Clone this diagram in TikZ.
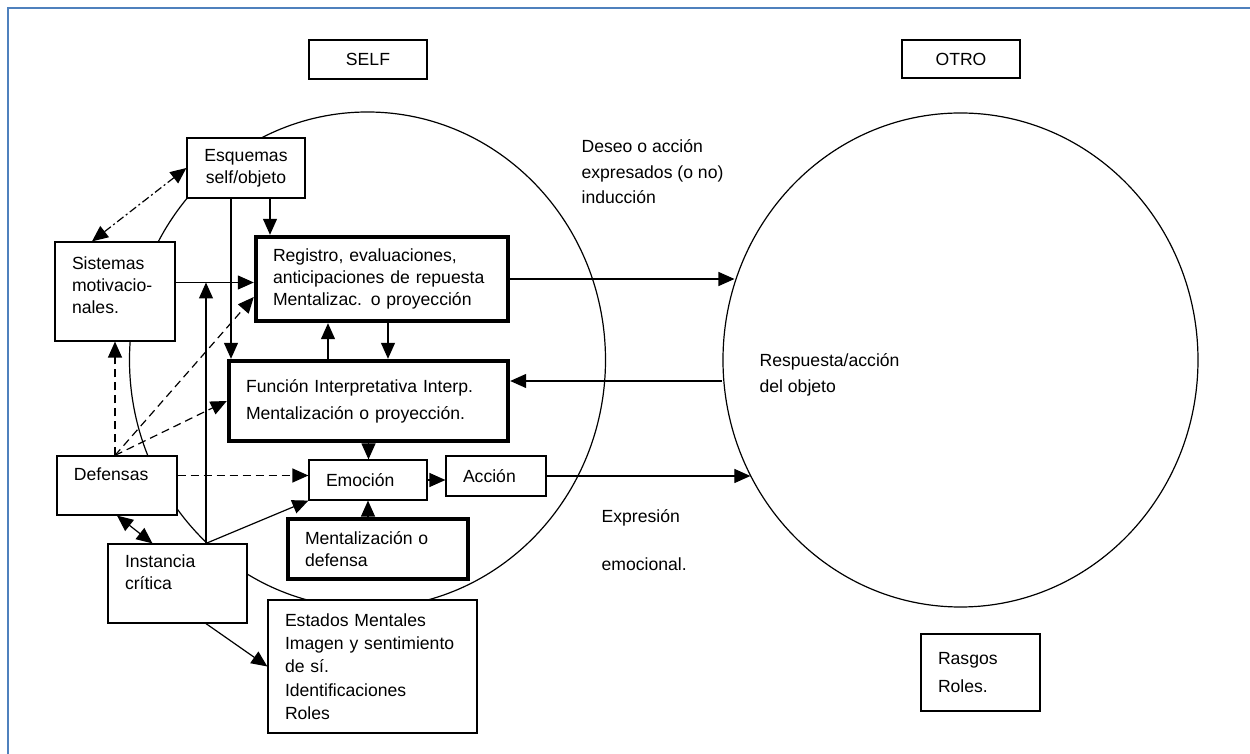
\documentclass[tikz,border=0pt]{standalone}
\usepackage{fontspec}
\setmainfont{Liberation Sans}
\usetikzlibrary{arrows.meta,calc,shapes.geometric}
\definecolor{framecol}{RGB}{79,129,189}
\tikzset{
  box/.style 2 args={draw,fill=white,line width=0.6pt,align=left,inner xsep=8.5pt,inner ysep=0pt,text width=#1*0.5pt-17pt,minimum height=#2*0.5pt},
  heavy/.style={line width=2.2pt},
  note/.style={align=left,inner sep=0pt,anchor=west},
  ring/.style 2 args={draw,ellipse,line width=0.6pt,inner sep=0pt,minimum width=#1*0.5pt,minimum height=#2*0.5pt},
  dashline/.style={dash pattern=on 4pt off 2.5pt},
  dashdotline/.style={dash pattern=on 4pt off 1.5pt on 1pt off 1.5pt}
}

\begin{document}
\begin{tikzpicture}[x=0.5pt,y=-0.5pt,>={Triangle[length=8pt,width=7pt]},line width=0.6pt,font=\fontsize{8.8}{11}\selectfont]
\useasboundingbox (0,0) rectangle (1250,754);
\draw[framecol,line width=1.2pt] (8,754) -- (8,8) -- (1250,8);
% the two circles
\node[ring={476}{496}] (selfc) at (367.5,360) {};
\node[ring={475}{494}] (otroc) at (960.5,360) {};
% boxes
\node[box={118}{39},align=center] (selfl) at (368,59.5) {SELF};
\node[box={118}{38},align=center] (otrol) at (961,59) {OTRO};
\node[box={118}{60},align=center] (esq) at (246,168) {Esquemas\\self/objeto};
\node[box={120}{99}] (sis) at (115,291.5) {Sistemas\\motivacio-\\nales.\\[-5pt]\mbox{}};
\node[box={252}{84},heavy] (reg) at (382,279) {Registro, evaluaciones,\\anticipaciones de repuesta\\Mentalizac. o proyección};
\node[box={279}{80},heavy] (fun) at (368.5,401) {Función Interpretativa Interp.\\[2.5pt]Mentalización o proyección.};
\node[box={120}{59}] (def) at (117,485.5) {Defensas\\ \mbox{}};
\node[box={118}{40}] (emo) at (368,480) {Emoción};
\node[box={100}{40}] (acc) at (496,476) {Acción};
\node[box={180}{60},heavy] (men) at (378,549) {Mentalización o\\defensa};
\node[box={139}{79}] (ins) at (177.5,583.5) {Instancia\\crítica\\ \mbox{}};
\node[box={209}{133},font=\fontsize{8.8}{11.65}\selectfont] (est) at (372.5,666.5) {Estados Mentales\\Imagen y sentimiento\\de sí.\\Identificaciones\\Roles};
\node[box={119}{77}] (ras) at (980.5,672.5) {Rasgos\\[3pt]Roles.};
% free labels
\node[note] (deseo) at (581,172) {Deseo o acción\\[1.75pt]expresados (o no)\\[1.75pt]inducción};
\node[note] (resp) at (759,375) {Respuesta/acción\\[2pt]del objeto};
\node[note] (expr) at (601,540) {Expresión\\[13pt]emocional.};
% connectors
\draw[<->,dashdotline] (esq.west) -- ($(sis.north)+(-23,0)$);
\draw[->] ($(esq.south)+(24,0)$) coordinate (e1) -- (e1 |- reg.north);
\draw[->] ($(esq.south)+(-15,0)$) coordinate (e2) -- (e2 |- fun.north);
\draw[->] ($(sis.east)+(0,-9)$) coordinate (s1) -- (s1 -| reg.west);
\draw[->] ($(ins.north)+(28.5,0)$) coordinate (i1) -- (i1 |- s1);
\draw[->] ($(fun.north)+(-40.5,0)$) coordinate (f1) -- (f1 |- reg.south);
\draw[->] ($(reg.south)+(6,0)$) coordinate (r1) -- (r1 |- fun.north);
\draw[->] (reg.east) -- (reg.east -| otroc.161);
\draw[<-] ($(fun.east)+(0,-20)$) coordinate (f2) -- (f2 -| otroc.west);
\draw[->] (fun.south) -- (fun.south |- emo.north);
\draw[->] (emo.east) -- (emo.east -| acc.west);
\draw[->] (emo.south |- men.north) -- (emo.south);
\draw[->] (acc.east) -- (acc.east -| otroc.209);
% from Defensas and Instancia
\draw[->,dashline] ($(def.east)+(0,-10)$) coordinate (d1) -- (d1 -| emo.west);
\draw[->,dashline] (def.north -| sis.south) coordinate (d2) -- (sis.south);
\draw[->,dashline] (d2) -- ($(reg.west)+(0,18)$);
\draw[->,dashline] (d2) -- (fun.west);
\draw[<->] (def.south) -- ($(ins.north)+(-25,0)$);
\draw[->] (i1) -- (emo.south west);
\draw[->] ($(ins.south)+(28.5,0)$) -- (est.west);
\end{tikzpicture}
\end{document}
